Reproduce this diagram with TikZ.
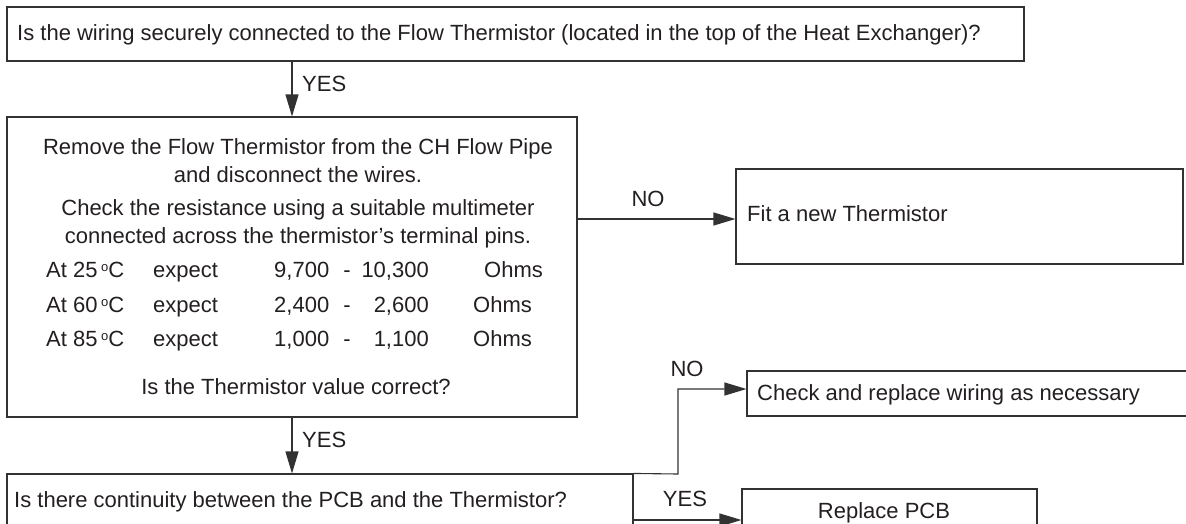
\documentclass[tikz,border=0pt]{standalone}
\usepackage{fontspec}
\setmainfont{Liberation Sans}
\usetikzlibrary{arrows.meta,calc}
\definecolor{textc}{RGB}{35,31,32}
\definecolor{linec}{RGB}{50,50,50}
\newcommand{\dgC}{\,{\fontsize{13}{13}\selectfont\raisebox{6pt}{o}}C}
\begin{document}
\begin{tikzpicture}[x=1pt,y=-1pt,
  box/.style={draw=linec, line width=1.1pt, rectangle, inner sep=0pt},
  txt/.style={font=\fontsize{22}{26}\selectfont, text=textc, inner sep=0pt},
  arr/.style={draw=linec, line width=1.1pt, -{Triangle[length=22pt,width=13pt]}}]
\useasboundingbox (0,0) rectangle (1186,523);
\clip (0,0) rectangle (1186,523);
% boxes
\node[box, minimum width=1017pt, minimum height=54pt] (q1) at (515.5,34) {};
\node[box, minimum width=570pt, minimum height=300pt] (q2) at (292,267) {};
\node[box, minimum width=447pt, minimum height=95pt] (fitbox) at (959.5,216.5) {};
\node[box, minimum width=453pt, minimum height=45pt] (check) at (973.5,393.5) {};
\node[box, minimum width=626pt, minimum height=52pt] (q3) at (320,500) {};
\node[box, minimum width=295pt, minimum height=42pt] (replace) at (889.5,510) {};
% texts
\node[txt, anchor=base west] (t1) at (17,40) {Is the wiring securely connected to the Flow Thermistor (located in the top of the Heat Exchanger)?};
\node[txt, anchor=base] (t2a) at (298,154) {Remove the Flow Thermistor from the CH Flow Pipe};
\node[txt, anchor=base] (t2b) at (298,182) {and disconnect the wires.};
\node[txt, anchor=base] (t2c) at (298,215) {Check the resistance using a suitable multimeter};
\node[txt, anchor=base] (t2d) at (298,243) {connected across the thermistor’s terminal pins.};
\node[txt, anchor=base west] (r1a) at (46,277) {At 25\dgC};
\node[txt, anchor=base west] (r1b) at (153,277) {expect};
\node[txt, anchor=base west] (r1c) at (274,277) {9,700};
\node[txt, anchor=base] (r1d) at (347,277) {-};
\node[txt, anchor=base east] (r1e) at (429,277) {10,300};
\node[txt, anchor=base west] (r1f) at (484,277) {Ohms};
\node[txt, anchor=base west] (r2a) at (46,312) {At 60\dgC};
\node[txt, anchor=base west] (r2b) at (153,312) {expect};
\node[txt, anchor=base west] (r2c) at (274,312) {2,400};
\node[txt, anchor=base] (r2d) at (347,312) {-};
\node[txt, anchor=base east] (r2e) at (429,312) {2,600};
\node[txt, anchor=base west] (r2f) at (473,312) {Ohms};
\node[txt, anchor=base west] (r3a) at (46,346) {At 85\dgC};
\node[txt, anchor=base west] (r3b) at (153,346) {expect};
\node[txt, anchor=base west] (r3c) at (274,346) {1,000};
\node[txt, anchor=base] (r3d) at (347,346) {-};
\node[txt, anchor=base east] (r3e) at (429,346) {1,100};
\node[txt, anchor=base west] (r3f) at (473,346) {Ohms};
\node[txt, anchor=base] (t2e) at (296,394) {Is the Thermistor value correct?};
\node[txt, anchor=base west] (tfit) at (747,221) {Fit a new Thermistor};
\node[txt, anchor=base west] (tcheck) at (757,400) {Check and replace wiring as necessary};
\node[txt, anchor=base west] (t3) at (14,507) {Is there continuity between the PCB and the Thermistor?};
\node[txt, anchor=base] (trep) at (884,518) {Replace PCB};
% connectors
\draw[arr] (q1.south -| q2.north) -- (q2.north);
\draw[arr] ([yshift=-2.5pt]fitbox.west -| q2.east) -- ([yshift=-2.5pt]fitbox.west);
\draw[arr] (q2.south) -- (q3.north -| q2.south);
\coordinate (bend) at (678,474);
\draw[arr] (q3.north east) -- (bend) |- ([yshift=4.5pt]check.west);
\draw[arr] ([yshift=-10pt]replace.west -| q3.east) -- ([yshift=-10pt]replace.west);
% labels
\node[txt, anchor=base west] (l1) at (302,91) {YES};
\node[txt, anchor=base] (l2) at (648,206) {NO};
\node[txt, anchor=base west] (l3) at (302,447) {YES};
\node[txt, anchor=base] (l4) at (687,376) {NO};
\node[txt, anchor=base] (l5) at (685,506) {YES};
\end{tikzpicture}
\end{document}
